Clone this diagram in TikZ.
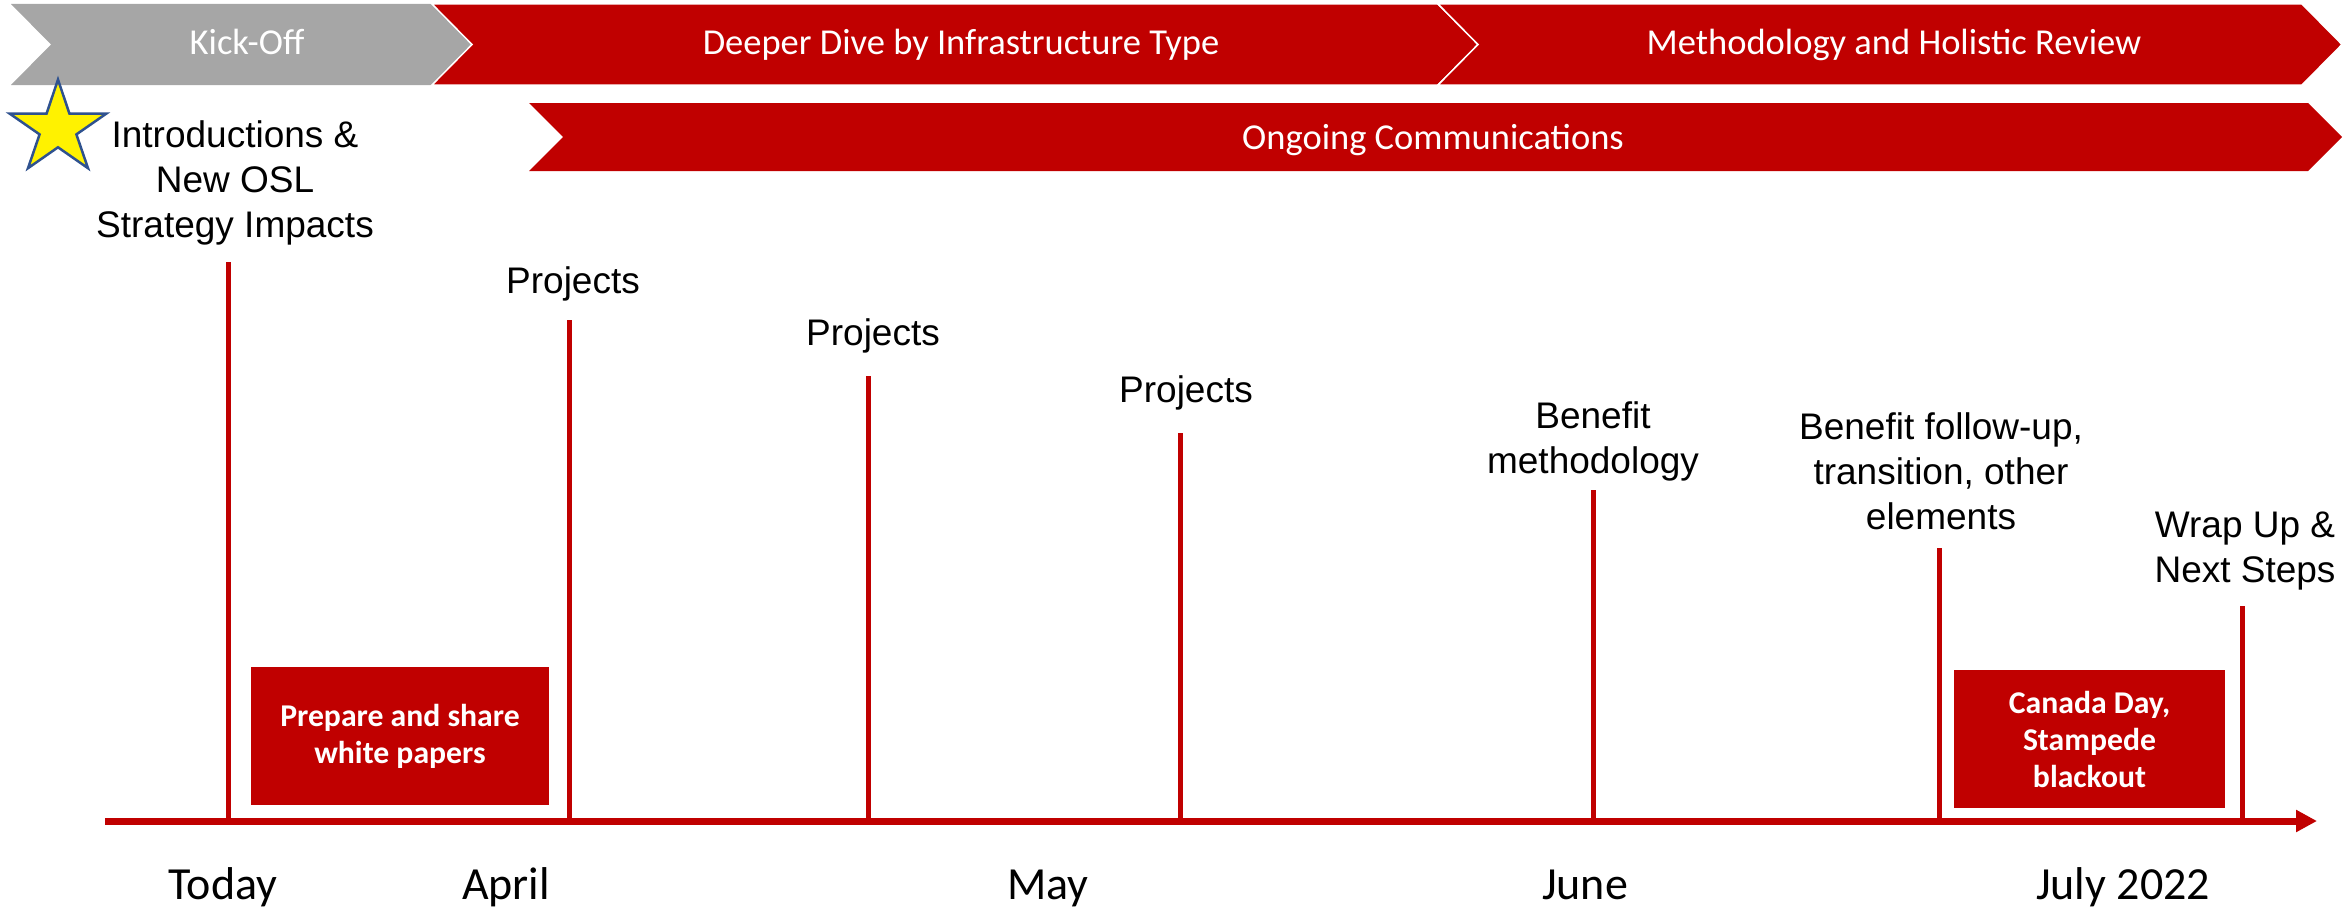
\documentclass[tikz,border=0pt]{standalone}
\usepackage{fontspec}
\setmainfont{Carlito}
\newfontfamily\arialfont{Liberation Sans}
\usetikzlibrary{arrows.meta}
\definecolor{tred}{HTML}{C00000}
\definecolor{tgray}{HTML}{A6A6A6}
\definecolor{starblue}{HTML}{2F528F}
\begin{document}
\begin{tikzpicture}[x=1pt,y=-1pt,
  phase/.style={draw=white, line width=1.5pt},
  phasetext/.style={text=white, font=\fontsize{36.5}{44}\selectfont, anchor=base, inner sep=0pt},
  milestone/.style={draw=tred, line width=5pt},
  mlabel/.style={font=\arialfont\fontsize{37}{45}\selectfont, align=center, inner sep=0pt},
  month/.style={font=\fontsize{46}{55}\selectfont, anchor=base, inner sep=0pt},
  note/.style={fill=tred, text=white, font=\bfseries\fontsize{31.7}{37}\selectfont, align=center, inner sep=0pt},
  axisline/.style={draw=tred, line width=7pt, -{Triangle[length=21pt,width=21pt]}},
  starshape/.style={fill=yellow, draw=starblue, line width=2.5pt, line join=miter}]
\useasboundingbox (0,0) rectangle (2348,907);
% phase chevrons
\fill[tgray] (11,4) -- (432,4) -- (472,44.5) -- (432,85) -- (11,85) -- (51,44.5) -- cycle;
\filldraw[tred, phase] (432,4) -- (1438,4) -- (1478,44.5) -- (1438,85) -- (432,85) -- (472,44.5) -- cycle;
\filldraw[tred, phase] (1438,4) -- (2302,4) -- (2342,44.5) -- (2302,85) -- (1438,85) -- (1478,44.5) -- cycle;
\fill[tred] (529,103) -- (2308,103) -- (2342,137) -- (2308,171) -- (529,171) -- (563,137) -- cycle;
\node[phasetext] (kick) at (247,55) {Kick-Off};
\node[phasetext] (deep) at (961,54.5) {Deeper Dive by Infrastructure Type};
\node[phasetext] (meth) at (1894,54.5) {Methodology and Holistic Review};
\node[phasetext] (comm) at (1433,149) {Ongoing Communications};
% star
\draw[starshape] (58,79.6) -- (69.4,113.5) -- (106.5,113.5) -- (76.4,134.4) -- (88,168.2) -- (58,147.3) -- (28,168.2) -- (39.6,134.4) -- (9.5,113.5) -- (46.6,113.5) -- cycle;
% axis and milestones
\coordinate (axs) at (105,821);
\coordinate (axe) at (2317,821);
\coordinate (m1) at (228,262);
\coordinate (m2) at (569,320);
\coordinate (m3) at (868,376);
\coordinate (m4) at (1180,433);
\coordinate (m5) at (1593,490);
\coordinate (m6) at (1939,548);
\coordinate (m7) at (2242,606);
\foreach \m in {m1,m2,m3,m4,m5,m6,m7} \draw[milestone] (\m) -- (\m |- axs);
\draw[axisline] (axs) -- (axe);
% milestone labels
\node[mlabel] (intro) at (235,183) {Introductions \&\\New OSL\\Strategy Impacts};
\node[mlabel, anchor=base] (p1) at (573,293) {Projects};
\node[mlabel, anchor=base] (p2) at (873,345) {Projects};
\node[mlabel, anchor=base] (p3) at (1186,402) {Projects};
\node[mlabel] (ben) at (1593,441) {Benefit\\methodology};
\node[mlabel] (fol) at (1941,471) {Benefit follow-up,\\transition, other\\elements};
\node[mlabel] (wrap) at (2245,551) {Wrap Up \&\\Next Steps};
% boxes
\node[note, minimum width=298pt, minimum height=138pt] (wp) at (400,736) {Prepare and share\\white papers};
\node[note, minimum width=271pt, minimum height=138pt] (cd) at (2089.5,739) {Canada Day,\\Stampede\\blackout};
% months
\node[month] (today) at (223,899) {Today};
\node[month] (april) at (506,899) {April};
\node[month] (may) at (1048,899) {May};
\node[month] (june) at (1585,899) {June};
\node[month] (july) at (2123,899) {July 2022};
\end{tikzpicture}
\end{document}
